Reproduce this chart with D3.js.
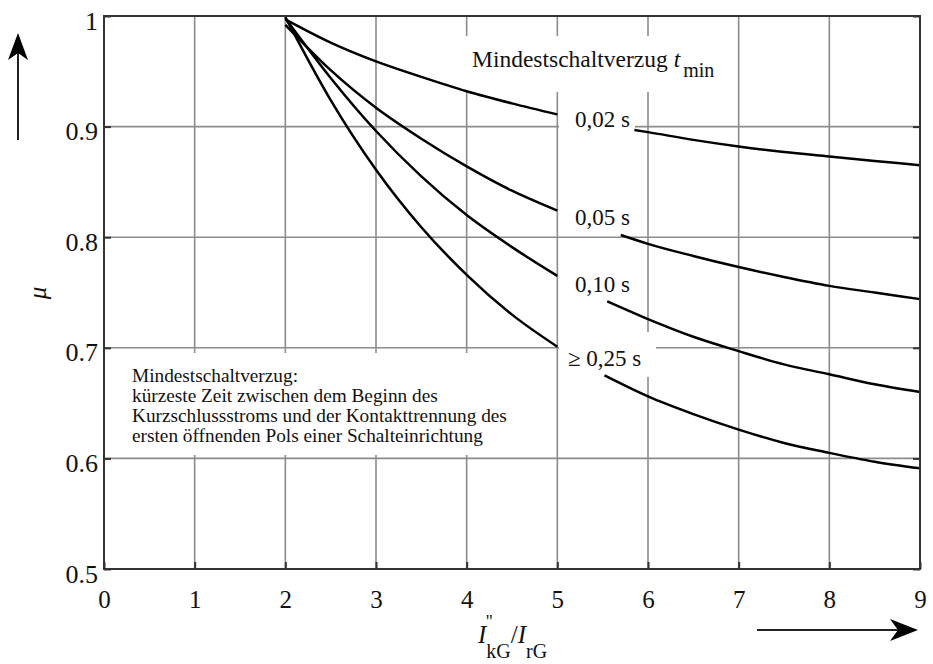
<!DOCTYPE html>
<html><head><meta charset="utf-8">
<script src="https://cdn.jsdelivr.net/npm/d3@7"></script>
<style>
body{margin:0;background:#fff;}
text{font-family:"Liberation Serif","Times New Roman",serif;fill:#111;}
</style></head>
<body><svg id="c" width="933" height="664"></svg>
<script>
// ---- data ----
const xTicks = [0,1,2,3,4,5,6,7,8,9];
const yTicks = [0.5,0.6,0.7,0.8,0.9,1];
const yTickLabels = ["0.5","0.6","0.7","0.8","0.9","1"];
const seriesNames = ["0,02 s","0,05 s","0,10 s","\u2265 0,25 s"];

// left segments (x = 2 ... 5)
const xLeft = [2,2.5,3,3.5,4,4.5,5];
const left002 = [0.997,0.976,0.959,0.945,0.932,0.921,0.911];
const left005 = [0.992,0.951,0.917,0.889,0.864,0.842,0.824];
const left010 = [0.998,0.944,0.896,0.855,0.820,0.791,0.765];
const left025 = [0.999,0.924,0.861,0.809,0.766,0.730,0.701];

// right segments (after the labels up to x = 9)
const xRight002 = [5.85,6,6.5,7,7.5,8,8.5,9];
const right002  = [0.897,0.895,0.888,0.882,0.877,0.873,0.869,0.865];
const xRight005 = [5.7,6,6.5,7,7.5,8,8.5,9];
const right005  = [0.802,0.794,0.783,0.773,0.764,0.756,0.750,0.744];
const xRight010 = [5.55,6,6.5,7,7.5,8,8.5,9];
const right010  = [0.742,0.726,0.710,0.697,0.685,0.676,0.667,0.660];
const xRight025 = [5.52,6,6.5,7,7.5,8,8.5,9];
const right025  = [0.675,0.656,0.640,0.626,0.614,0.605,0.597,0.591];

const leftSeries = [left002,left005,left010,left025];
const rightX = [xRight002,xRight005,xRight010,xRight025];
const rightSeries = [right002,right005,right010,right025];

// ---- layout ----
const svg = d3.select("#c");
const L=104, R=920, T=16, B=569;
const x = d3.scaleLinear().domain([0,9]).range([L,R]);
const y = d3.scaleLinear().domain([0.5,1]).range([B,T]);
const gridCol="#8c8c8c", frameCol="#333";
const SERIF = '"Liberation Serif","Times New Roman",serif';

// grid
const g = svg.append("g");
g.selectAll(".vg").data(xTicks.slice(1,-1)).enter().append("line")
  .attr("x1",d=>x(d)).attr("x2",d=>x(d)).attr("y1",T).attr("y2",B)
  .attr("stroke",gridCol).attr("stroke-width",1.6);
g.selectAll(".hg").data(yTicks.slice(1,-1)).enter().append("line")
  .attr("y1",d=>y(d)).attr("y2",d=>y(d)).attr("x1",L).attr("x2",R)
  .attr("stroke",gridCol).attr("stroke-width",1.6);

// white boxes that break the grid
const boxes = [
  [462,36,273,56],    // title
  [559,100,76,32],    // 0,02 s
  [559,200,72,32],    // 0,05 s
  [559,268,80,32],    // 0,10 s
  [559,332,97,45],    // >= 0,25 s
  [105,353,451,102]   // description
];
svg.selectAll(".box").data(boxes).enter().append("rect")
  .attr("x",d=>d[0]).attr("y",d=>d[1]).attr("width",d=>d[2]).attr("height",d=>d[3])
  .attr("fill","#fff");

// curves
const line = d3.line().x(d=>x(d[0])).y(d=>y(d[1])).curve(d3.curveMonotoneX);
leftSeries.forEach(s=>{
  svg.append("path").attr("d",line(xLeft.map((xv,i)=>[xv,s[i]])))
    .attr("fill","none").attr("stroke","#000").attr("stroke-width",2.5);
});
rightSeries.forEach((s,k)=>{
  svg.append("path").attr("d",line(rightX[k].map((xv,i)=>[xv,s[i]])))
    .attr("fill","none").attr("stroke","#000").attr("stroke-width",2.5);
});

// frame
svg.append("rect").attr("x",L).attr("y",T).attr("width",R-L).attr("height",B-T)
  .attr("fill","none").attr("stroke",frameCol).attr("stroke-width",2);

// axes (inner ticks)
const ax = svg.append("g").attr("transform",`translate(0,${B})`)
  .call(d3.axisBottom(x).tickValues(xTicks).tickSize(-7).tickPadding(0).tickFormat(d3.format("d")));
const ay = svg.append("g").attr("transform",`translate(${L},0)`)
  .call(d3.axisLeft(y).tickValues(yTicks).tickSize(-7).tickPadding(6).tickFormat((d,i)=>yTickLabels[i]));
const ayr = svg.append("g").attr("transform",`translate(${R},0)`)
  .call(d3.axisRight(y).tickValues(yTicks).tickSize(-7).tickFormat(""));
[ax,ay,ayr].forEach(a=>{
  a.attr("font-family",SERIF);
  a.select(".domain").remove();
  a.selectAll(".tick line").attr("stroke",frameCol).attr("stroke-width",2);
  a.selectAll("text").style("font-family",SERIF).attr("fill","#111");
});
ax.selectAll("text").style("font-size","25px").attr("y",39).attr("dy","0");
ay.selectAll("text").style("font-size","26px").attr("dy","0.5em");

// series labels
const labelPos = [[575,127],[575,225],[575,292],[568,366]];
seriesNames.forEach((n,i)=>{
  svg.append("text").attr("x",labelPos[i][0]).attr("y",labelPos[i][1])
    .style("font-size","23px").text(n);
});

// title
const tt = svg.append("text").attr("x",472).attr("y",67).style("font-size","23.5px");
tt.append("tspan").text("Mindestschaltverzug ");
tt.append("tspan").style("font-style","italic").text("t");
tt.append("tspan").attr("dy",10).attr("dx",3).style("font-size","20px").text("min");

// description
const desc = ["Mindestschaltverzug:",
  "kürzeste Zeit zwischen dem Beginn des",
  "Kurzschlussstroms und der Kontakttrennung des",
  "ersten öffnenden Pols einer Schalteinrichtung"];
desc.forEach((t,i)=>{
  svg.append("text").attr("x",132).attr("y",382+i*20).style("font-size","19.3px").text(t);
});

// y axis label and arrow
svg.append("text").attr("transform","translate(46,293) rotate(-90)")
  .attr("text-anchor","middle").style("font-size","25px").style("font-style","italic").text("\u03bc");
svg.append("line").attr("x1",18).attr("x2",18).attr("y1",140).attr("y2",50)
  .attr("stroke","#222").attr("stroke-width",2);
svg.append("path").attr("d","M18,33 L8,60 L18,53 L28,60 Z").attr("fill","#000");

// x axis label
const xl = svg.append("text").attr("x",478).attr("y",643).style("font-size","25px");
xl.append("tspan").style("font-style","italic").text("I");
xl.append("tspan").attr("dy",15).style("font-size","20px").text("kG");
xl.append("tspan").attr("dy",-15).text("/");
xl.append("tspan").style("font-style","italic").text("I");
xl.append("tspan").attr("dy",15).style("font-size","20px").text("rG");
svg.append("text").attr("x",486).attr("y",628).style("font-size","18px").text("''");

// x arrow
svg.append("line").attr("x1",757).attr("x2",900).attr("y1",630).attr("y2",630)
  .attr("stroke","#222").attr("stroke-width",2);
svg.append("path").attr("d","M918,630 L890,619 L898,630 L890,641 Z").attr("fill","#000");
</script></body></html>
